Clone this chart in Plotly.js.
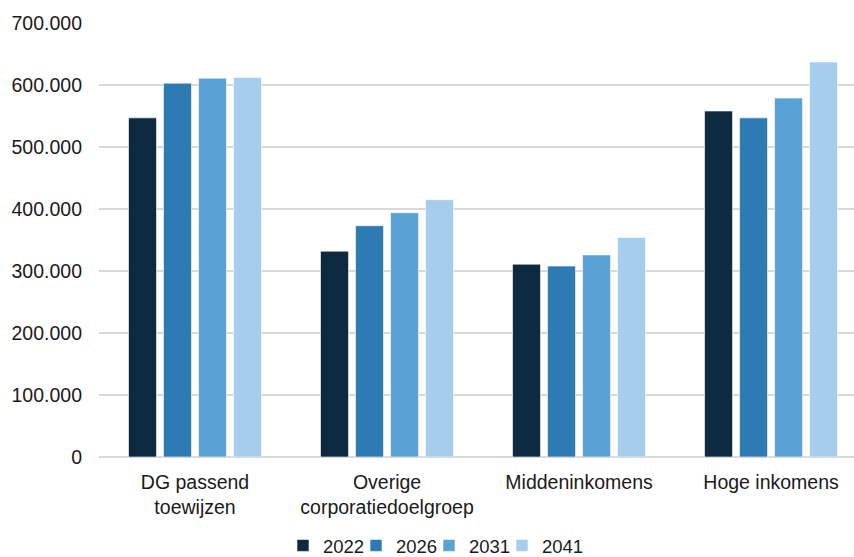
<!DOCTYPE html>
<html>
<head>
<meta charset="utf-8">
<script src="https://cdn.plot.ly/plotly-3.0.1.min.js"></script>
<style>
  html, body { margin: 0; padding: 0; background: #ffffff; }
  #chart { width: 854px; height: 557px; }
</style>
</head>
<body>
<div id="chart"></div>
<script>
// Doelgroepen (x-axis categories)
const categories = [
  "DG passend<br>toewijzen",
  "Overige<br>corporatiedoelgroep",
  "Middeninkomens",
  "Hoge inkomens"
];

// Aantal huishoudens per jaar
const years = ["2022", "2026", "2031", "2041"];
const values2022 = [547000, 332000, 311000, 558000];
const values2026 = [603000, 373000, 308000, 547000];
const values2031 = [611000, 394000, 326000, 579000];
const values2041 = [612000, 415000, 354000, 637000];

const yTickVals = [0, 100000, 200000, 300000, 400000, 500000, 600000, 700000];
const yTickText = ["0", "100.000", "200.000", "300.000", "400.000", "500.000", "600.000", "700.000"];

const colors = ["#0f293e", "#2e7bb4", "#5aa1d4", "#a7cdec"];
const series = [values2022, values2026, values2031, values2041];

const traces = series.map((vals, i) => ({
  type: "bar",
  name: years[i],
  x: categories,
  y: vals,
  marker: { color: colors[i], line: { color: "rgba(255,255,255,0.6)", width: 1 } },
  hoverinfo: "skip"
}));

// Empty trailing legend slot so the compact last entry is not clipped
traces.push({
  type: "scatter",
  mode: "markers",
  name: "",
  x: [null],
  y: [null],
  marker: { color: "rgba(0,0,0,0)", size: 1, line: { width: 0, color: "rgba(0,0,0,0)" } },
  hoverinfo: "skip"
});

const axisFont = { family: "Liberation Sans, Arial, sans-serif", size: 19.5, color: "#1a1a1a" };
const legendFont = { family: "Liberation Sans, Arial, sans-serif", size: 18.5, color: "#1a1a1a" };

const layout = {
  width: 854,
  height: 557,
  margin: { l: 99, r: 0, t: 23, b: 100 },
  paper_bgcolor: "#ffffff",
  plot_bgcolor: "#ffffff",
  font: axisFont,
  barmode: "group",
  bargap: 0.271,
  bargroupgap: 0.2,
  showlegend: true,
  legend: {
    orientation: "h",
    xref: "container",
    yref: "container",
    x: 283 / 854,
    xanchor: "left",
    y: 0.02,
    yanchor: "middle",
    font: legendFont,
    itemwidth: 30,
    entrywidth: 28,
    tracegroupgap: 0
  },
  xaxis: {
    type: "category",
    range: [-0.5, 3.432],
    showgrid: false,
    showline: false,
    ticks: "",
    tickfont: axisFont,
    ticklabelstandoff: 11,
    automargin: false
  },
  yaxis: {
    range: [0, 700000],
    tickvals: yTickVals,
    ticktext: yTickText,
    showgrid: true,
    gridcolor: "#d9d9d9",
    gridwidth: 1.5,
    zeroline: true,
    zerolinecolor: "#d9d9d9",
    zerolinewidth: 1.5,
    showline: false,
    ticks: "",
    ticklabelstandoff: 16,
    tickfont: axisFont,
    automargin: false
  }
};

Plotly.newPlot("chart", traces, layout, { displayModeBar: false, staticPlot: true });
</script>
</body>
</html>
